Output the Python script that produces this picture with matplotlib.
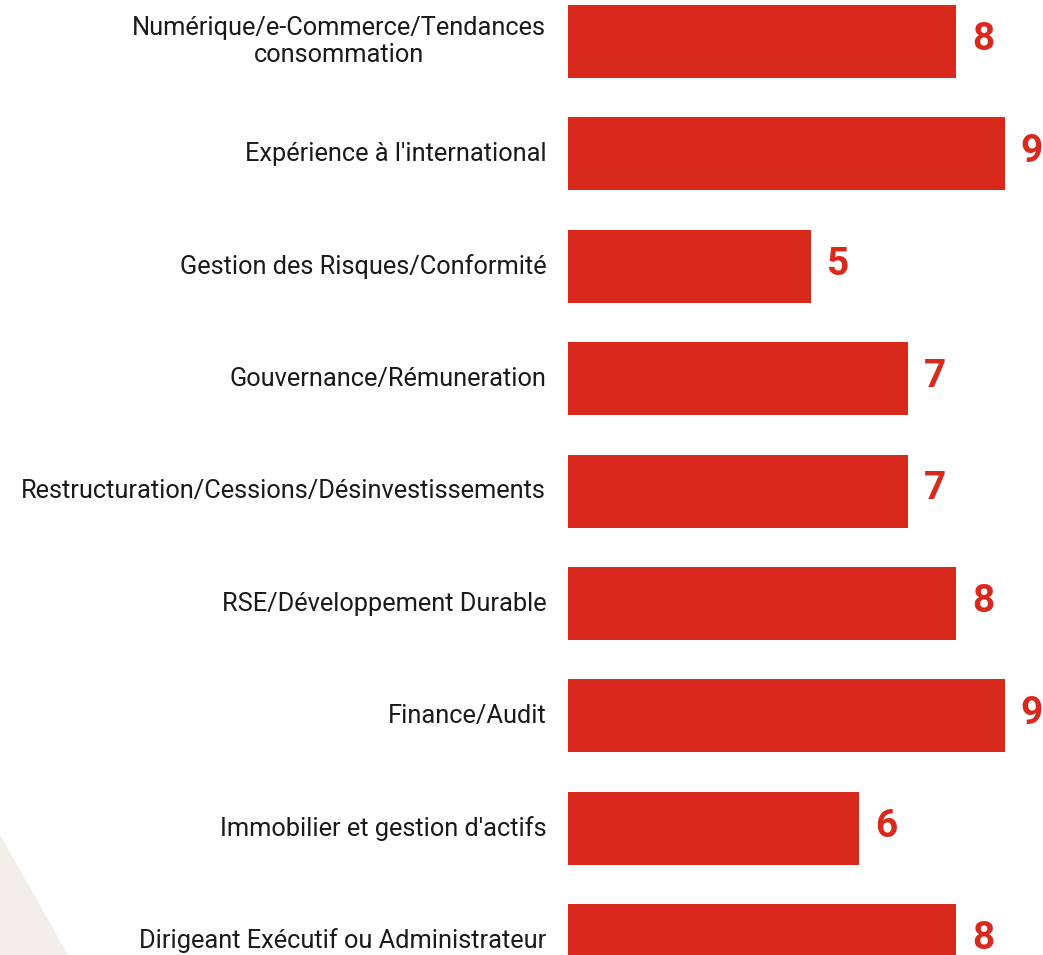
import matplotlib.pyplot as plt
from matplotlib.patches import Polygon

# data (top to bottom)
categories = [
    "Numérique/e-Commerce/Tendances\nconsommation",
    "Expérience à l'international",
    "Gestion des Risques/Conformité",
    "Gouvernance/Rémuneration",
    "Restructuration/Cessions/Désinvestissements",
    "RSE/Développement Durable",
    "Finance/Audit",
    "Immobilier et gestion d'actifs",
    "Dirigeant Exécutif ou Administrateur",
]
values = [8, 9, 5, 7, 7, 8, 9, 6, 8]

bar_color = "#D9291C"
bg_shape = "#F2EFEA"

fig = plt.figure(figsize=(10.43, 9.55), dpi=100)
fig.patch.set_facecolor("white")

# light decorative triangle bottom-left
tri = Polygon([(0, 0), (68 / 1043, 0), (0, 120 / 955)], closed=True,
              transform=fig.transFigure, facecolor=bg_shape, edgecolor="none", zorder=0)
fig.patches.append(tri)

ax = fig.add_axes([568 / 1043, 0, 475 / 1043, 1])
ax.patch.set_alpha(0)

ypos = list(range(len(categories)))
ax.barh(ypos, values, height=0.65, color=bar_color)

for y, v, lab in zip(ypos, values, categories):
    ax.text(v + 0.33, y - 0.02, str(v), ha="left", va="center", color=bar_color,
            fontsize=28, fontweight="bold",
            family=["Roboto", "DejaVu Sans"])
    ax.text(-0.45, y, lab, ha="right", va="center", multialignment="center",
            fontsize=18.3, color="#1a1a1a", family=["Roboto", "DejaVu Sans"],
            linespacing=1.15, clip_on=False)

ax.set_xlim(0, 475 / 48.5)
ax.set_ylim(8.127, -0.369)
ax.axis("off")

fig.savefig("out.png", dpi=100)
